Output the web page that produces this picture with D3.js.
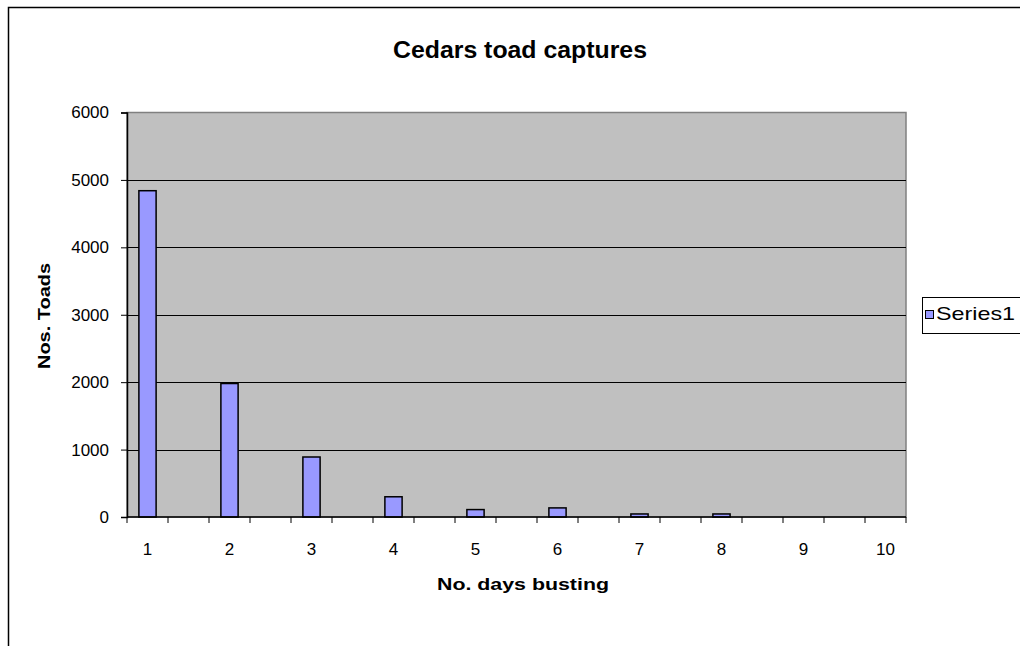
<!DOCTYPE html>
<html>
<head>
<meta charset="utf-8">
<script src="https://cdn.jsdelivr.net/npm/d3@7"></script>
<style>
  html, body { margin: 0; padding: 0; background: #fff; }
  svg { display: block; font-family: "Liberation Sans", Arial, sans-serif; }
</style>
</head>
<body>
<svg id="chart" width="1020" height="646"></svg>
<script>
// ---- data ----
const categories = ["1", "2", "3", "4", "5", "6", "7", "8", "9", "10"];
const values = [4840, 1980, 890, 300, 110, 135, 45, 45, 0, 0];
const yTicks = [0, 1000, 2000, 3000, 4000, 5000, 6000];
const seriesName = "Series1";
const chartTitle = "Cedars toad captures";
const xTitle = "No. days busting";
const yTitle = "Nos. Toads";

// ---- layout ----
const svg = d3.select("#chart");
const plot = { left: 127, top: 112.5, right: 906, bottom: 517 };

// outer chart frame (extends past the window)
svg.append("rect")
  .attr("x", 8.5).attr("y", 7.5)
  .attr("width", 1100).attr("height", 700)
  .attr("fill", "#fff").attr("stroke", "#000").attr("stroke-width", 1.5);

// slots: each category followed by an empty slot (19 slots total)
const slots = d3.range(categories.length * 2 - 1);
const x = d3.scaleBand().domain(slots).range([plot.left, plot.right]).paddingInner(0).paddingOuter(0);
const y = d3.scaleLinear().domain([0, 6000]).range([plot.bottom, plot.top]);

// plot background
svg.append("rect")
  .attr("x", plot.left).attr("y", plot.top)
  .attr("width", plot.right - plot.left).attr("height", plot.bottom - plot.top)
  .attr("fill", "#C0C0C0").attr("stroke", "#808080").attr("stroke-width", 1.5);

// gridlines
svg.append("g").selectAll("line")
  .data(yTicks.filter(d => d > 0 && d < 6000))
  .join("line")
  .attr("x1", plot.left).attr("x2", plot.right)
  .attr("y1", d => Math.round(y(d)) + 0.5).attr("y2", d => Math.round(y(d)) + 0.5)
  .attr("stroke", "#000").attr("stroke-width", 1);

// bars
const barW = x.bandwidth() * 0.42;
svg.append("g").selectAll("rect")
  .data(values.map((v, i) => ({ v, slot: i * 2 })).filter(d => d.v > 0))
  .join("rect")
  .attr("x", d => x(d.slot) + (x.bandwidth() - barW) / 2)
  .attr("y", d => y(d.v))
  .attr("width", barW)
  .attr("height", d => y(0) - y(d.v))
  .attr("fill", "#9999FF").attr("stroke", "#000").attr("stroke-width", 1.5);

// y axis
const yAxis = d3.axisLeft(y).tickValues(yTicks).tickSize(6).tickPadding(12).tickFormat(d3.format("d"));
const gy = svg.append("g").attr("transform", `translate(${plot.left},0)`).call(yAxis);
gy.select(".domain").attr("stroke", "#000").attr("stroke-width", 1.5);
gy.selectAll(".tick line").attr("stroke", "#000");
gy.selectAll(".tick text").attr("font-size", 17).attr("fill", "#000")
  .attr("font-family", "'Liberation Sans', Arial, sans-serif");

// x axis: ticks at slot boundaries
const boundaries = d3.range(slots.length + 1).map(i => plot.left + i * x.bandwidth());
const gx = svg.append("g");
gx.append("line").attr("x1", plot.left).attr("x2", plot.right)
  .attr("y1", plot.bottom).attr("y2", plot.bottom)
  .attr("stroke", "#000").attr("stroke-width", 1.5);
gx.selectAll("line.tk").data(boundaries).join("line").attr("class", "tk")
  .attr("x1", d => d).attr("x2", d => d)
  .attr("y1", plot.bottom).attr("y2", plot.bottom + 6)
  .attr("stroke", "#000").attr("stroke-width", 1);
gx.selectAll("text").data(categories).join("text")
  .attr("x", (d, i) => x(i * 2) + x.bandwidth() / 2)
  .attr("y", plot.bottom + 38)
  .attr("text-anchor", "middle").attr("font-size", 17).attr("fill", "#000")
  .text(d => d);

// titles
svg.append("text").attr("x", 520).attr("y", 58).attr("text-anchor", "middle")
  .attr("font-size", 23).attr("font-weight", "bold")
  .attr("textLength", 254).attr("lengthAdjust", "spacingAndGlyphs").text(chartTitle);
svg.append("text").attr("x", 523).attr("y", 590).attr("text-anchor", "middle")
  .attr("font-size", 17).attr("font-weight", "bold")
  .attr("textLength", 172).attr("lengthAdjust", "spacingAndGlyphs").text(xTitle);
svg.append("text").attr("transform", "translate(50,316) rotate(-90)").attr("text-anchor", "middle")
  .attr("font-size", 17).attr("font-weight", "bold")
  .attr("textLength", 106).attr("lengthAdjust", "spacingAndGlyphs").text(yTitle);

// legend
const lg = svg.append("g");
lg.append("rect").attr("x", 922.5).attr("y", 297.5).attr("width", 120).attr("height", 36)
  .attr("fill", "#fff").attr("stroke", "#000").attr("stroke-width", 1);
lg.append("rect").attr("x", 925.5).attr("y", 310.5).attr("width", 8).attr("height", 8)
  .attr("fill", "#9999FF").attr("stroke", "#000").attr("stroke-width", 1);
lg.append("text").attr("x", 936).attr("y", 320).attr("font-size", 19)
  .attr("textLength", 79).attr("lengthAdjust", "spacingAndGlyphs").text(seriesName);
</script>
</body>
</html>
